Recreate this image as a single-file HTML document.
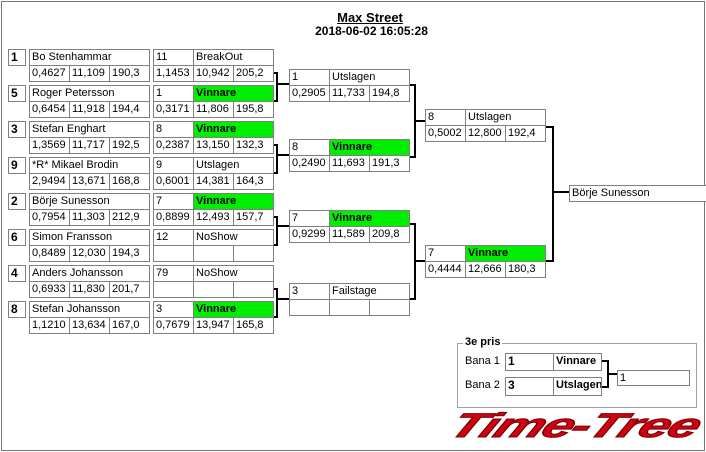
<!DOCTYPE html>
<html><head><meta charset="utf-8"><style>
body{margin:0;width:706px;height:452px;background:#fff;position:relative;overflow:hidden;font-family:"Liberation Sans",sans-serif;font-size:11px;color:#000}
.c{position:absolute;box-sizing:border-box;border:1px solid #808080;height:17px;line-height:15px;padding-left:2px;white-space:nowrap;overflow:hidden;background:#fff}
.s{position:absolute;box-sizing:border-box;border:1px solid #808080;width:18px;height:17px;line-height:15px;padding-left:2px;font-weight:bold;font-size:12px}
.g{background:#00ee00;font-weight:bold}
.t{position:absolute;font-weight:bold;white-space:nowrap}
</style></head><body>
<div style="position:absolute;left:1px;top:1px;width:704px;height:450px;box-sizing:border-box;border:1px solid #777"></div>
<div class="t" style="left:0;width:740px;text-align:center;top:10px;font-size:13px;text-decoration:underline">Max Street</div>
<div class="t" style="left:0;width:743px;text-align:center;top:24px;font-size:12px">2018-06-02 16:05:28</div>

<!-- Round 1 entries -->
<div class="s" style="left:8px;top:49px">1</div>
<div class="c" style="left:29px;top:49px;width:121px">Bo Stenhammar</div>
<div class="c" style="left:29px;top:65px;width:41px">0,4627</div><div class="c" style="left:69px;top:65px;width:41px">11,109</div><div class="c" style="left:109px;top:65px;width:41px">190,3</div>
<div class="c" style="left:153px;top:49px;width:41px">11</div><div class="c" style="left:193px;top:49px;width:81px">BreakOut</div>
<div class="c" style="left:153px;top:65px;width:41px">1,1453</div><div class="c" style="left:193px;top:65px;width:41px">10,942</div><div class="c" style="left:233px;top:65px;width:41px">205,2</div>

<div class="s" style="left:8px;top:85px">5</div>
<div class="c" style="left:29px;top:85px;width:121px">Roger Petersson</div>
<div class="c" style="left:29px;top:101px;width:41px">0,6454</div><div class="c" style="left:69px;top:101px;width:41px">11,918</div><div class="c" style="left:109px;top:101px;width:41px">194,4</div>
<div class="c" style="left:153px;top:85px;width:41px">1</div><div class="c g" style="left:193px;top:85px;width:81px">Vinnare</div>
<div class="c" style="left:153px;top:101px;width:41px">0,3171</div><div class="c" style="left:193px;top:101px;width:41px">11,806</div><div class="c" style="left:233px;top:101px;width:41px">195,8</div>

<div class="s" style="left:8px;top:121px">3</div>
<div class="c" style="left:29px;top:121px;width:121px">Stefan Enghart</div>
<div class="c" style="left:29px;top:137px;width:41px">1,3569</div><div class="c" style="left:69px;top:137px;width:41px">11,717</div><div class="c" style="left:109px;top:137px;width:41px">192,5</div>
<div class="c" style="left:153px;top:121px;width:41px">8</div><div class="c g" style="left:193px;top:121px;width:81px">Vinnare</div>
<div class="c" style="left:153px;top:137px;width:41px">0,2387</div><div class="c" style="left:193px;top:137px;width:41px">13,150</div><div class="c" style="left:233px;top:137px;width:41px">132,3</div>

<div class="s" style="left:8px;top:157px">9</div>
<div class="c" style="left:29px;top:157px;width:121px">*R* Mikael Brodin</div>
<div class="c" style="left:29px;top:173px;width:41px">2,9494</div><div class="c" style="left:69px;top:173px;width:41px">13,671</div><div class="c" style="left:109px;top:173px;width:41px">168,8</div>
<div class="c" style="left:153px;top:157px;width:41px">9</div><div class="c" style="left:193px;top:157px;width:81px">Utslagen</div>
<div class="c" style="left:153px;top:173px;width:41px">0,6001</div><div class="c" style="left:193px;top:173px;width:41px">14,381</div><div class="c" style="left:233px;top:173px;width:41px">164,3</div>

<div class="s" style="left:8px;top:193px">2</div>
<div class="c" style="left:29px;top:193px;width:121px">Börje Sunesson</div>
<div class="c" style="left:29px;top:209px;width:41px">0,7954</div><div class="c" style="left:69px;top:209px;width:41px">11,303</div><div class="c" style="left:109px;top:209px;width:41px">212,9</div>
<div class="c" style="left:153px;top:193px;width:41px">7</div><div class="c g" style="left:193px;top:193px;width:81px">Vinnare</div>
<div class="c" style="left:153px;top:209px;width:41px">0,8899</div><div class="c" style="left:193px;top:209px;width:41px">12,493</div><div class="c" style="left:233px;top:209px;width:41px">157,7</div>

<div class="s" style="left:8px;top:229px">6</div>
<div class="c" style="left:29px;top:229px;width:121px">Simon Fransson</div>
<div class="c" style="left:29px;top:245px;width:41px">0,8489</div><div class="c" style="left:69px;top:245px;width:41px">12,030</div><div class="c" style="left:109px;top:245px;width:41px">194,3</div>
<div class="c" style="left:153px;top:229px;width:41px">12</div><div class="c" style="left:193px;top:229px;width:81px">NoShow</div>
<div class="c" style="left:153px;top:245px;width:41px"></div><div class="c" style="left:193px;top:245px;width:41px"></div><div class="c" style="left:233px;top:245px;width:41px"></div>

<div class="s" style="left:8px;top:265px">4</div>
<div class="c" style="left:29px;top:265px;width:121px">Anders Johansson</div>
<div class="c" style="left:29px;top:281px;width:41px">0,6933</div><div class="c" style="left:69px;top:281px;width:41px">11,830</div><div class="c" style="left:109px;top:281px;width:41px">201,7</div>
<div class="c" style="left:153px;top:265px;width:41px">79</div><div class="c" style="left:193px;top:265px;width:81px">NoShow</div>
<div class="c" style="left:153px;top:281px;width:41px"></div><div class="c" style="left:193px;top:281px;width:41px"></div><div class="c" style="left:233px;top:281px;width:41px"></div>

<div class="s" style="left:8px;top:301px">8</div>
<div class="c" style="left:29px;top:301px;width:121px">Stefan Johansson</div>
<div class="c" style="left:29px;top:317px;width:41px">1,1210</div><div class="c" style="left:69px;top:317px;width:41px">13,634</div><div class="c" style="left:109px;top:317px;width:41px">167,0</div>
<div class="c" style="left:153px;top:301px;width:41px">3</div><div class="c g" style="left:193px;top:301px;width:81px">Vinnare</div>
<div class="c" style="left:153px;top:317px;width:41px">0,7679</div><div class="c" style="left:193px;top:317px;width:41px">13,947</div><div class="c" style="left:233px;top:317px;width:41px">165,8</div>

<!-- Round 3 -->
<div class="c" style="left:289px;top:69px;width:41px">1</div><div class="c" style="left:329px;top:69px;width:81px">Utslagen</div>
<div class="c" style="left:289px;top:85px;width:41px">0,2905</div><div class="c" style="left:329px;top:85px;width:41px">11,733</div><div class="c" style="left:369px;top:85px;width:41px">194,8</div>

<div class="c" style="left:289px;top:139px;width:41px">8</div><div class="c g" style="left:329px;top:139px;width:81px">Vinnare</div>
<div class="c" style="left:289px;top:155px;width:41px">0,2490</div><div class="c" style="left:329px;top:155px;width:41px">11,693</div><div class="c" style="left:369px;top:155px;width:41px">191,3</div>

<div class="c" style="left:289px;top:210px;width:41px">7</div><div class="c g" style="left:329px;top:210px;width:81px">Vinnare</div>
<div class="c" style="left:289px;top:226px;width:41px">0,9299</div><div class="c" style="left:329px;top:226px;width:41px">11,589</div><div class="c" style="left:369px;top:226px;width:41px">209,8</div>

<div class="c" style="left:289px;top:283px;width:41px">3</div><div class="c" style="left:329px;top:283px;width:81px">Failstage</div>
<div class="c" style="left:289px;top:299px;width:41px"></div><div class="c" style="left:329px;top:299px;width:41px"></div><div class="c" style="left:369px;top:299px;width:41px"></div>

<!-- Round 4 -->
<div class="c" style="left:425px;top:109px;width:41px">8</div><div class="c" style="left:465px;top:109px;width:81px">Utslagen</div>
<div class="c" style="left:425px;top:125px;width:41px">0,5002</div><div class="c" style="left:465px;top:125px;width:41px">12,800</div><div class="c" style="left:505px;top:125px;width:41px">192,4</div>

<div class="c" style="left:425px;top:245px;width:41px">7</div><div class="c g" style="left:465px;top:245px;width:81px">Vinnare</div>
<div class="c" style="left:425px;top:261px;width:41px">0,4444</div><div class="c" style="left:465px;top:261px;width:41px">12,666</div><div class="c" style="left:505px;top:261px;width:41px">180,3</div>

<!-- Final -->
<div class="c" style="left:569px;top:185px;width:140px">Börje Sunesson</div>

<!-- 3e pris -->
<div style="position:absolute;left:457px;top:343px;width:240px;height:65px;box-sizing:border-box;border:1px solid #a0a0a0"></div>
<div class="t" style="left:463px;top:336px;background:#fff;padding:0 2px;font-size:11px">3e pris</div>
<div style="position:absolute;left:465px;top:355px">Bana 1</div>
<div style="position:absolute;left:465px;top:379px">Bana 2</div>
<div class="c" style="left:505px;top:353px;width:49px;height:18px;font-weight:bold;font-size:12px">1</div>
<div class="c" style="left:553px;top:353px;width:49px;height:18px;font-weight:bold">Vinnare</div>
<div class="c" style="left:505px;top:377px;width:49px;height:19px;font-weight:bold;font-size:12px">3</div>
<div class="c" style="left:553px;top:377px;width:49px;height:19px;font-weight:bold">Utslagen</div>
<div class="c" style="left:617px;top:370px;width:73px;height:16px;line-height:14px">1</div>

<svg style="position:absolute;left:0;top:0" width="706" height="452">
<g stroke="#000" stroke-width="2" fill="none">
<path d="M274 73H277V101H274M277 84H289"/>
<path d="M274 145H277V173H274M277 155H289"/>
<path d="M274 217H277V245H274M277 226H289"/>
<path d="M274 289H277V317H274M277 299H289"/>
<path d="M410 85H415V157H410M415 121H425"/>
<path d="M410 224H415V299H410M415 261H425"/>
<path d="M546 127H553V261H546M553 192H569"/>
<path d="M602 361H608V387H602M608 374H617"/>
</g>
</svg>

<div style="position:absolute;left:461px;top:409px;width:160px;font-family:'Liberation Sans',sans-serif;font-weight:bold;font-style:italic;font-size:34px;line-height:34px;color:#d00012;-webkit-text-stroke:1px #700;transform-origin:0 0;transform:scaleX(1.62) skewX(-18deg);white-space:nowrap;letter-spacing:-1px">Time-Tree</div>
</body></html>
